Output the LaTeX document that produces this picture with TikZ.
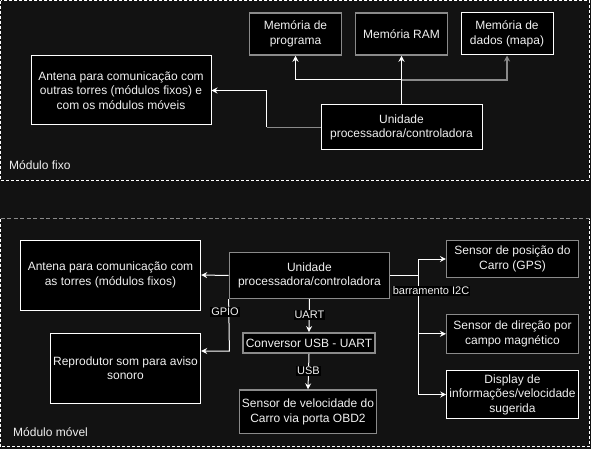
\documentclass[tikz,border=0pt]{standalone}
\usepackage{fontspec}
\setmainfont{Liberation Sans}
\usetikzlibrary{arrows.meta}
\definecolor{bgc}{HTML}{121212}
\definecolor{txc}{HTML}{F0F0F0}
\definecolor{grc}{HTML}{8A8A8A}
\tikzset{
  box/.style={draw=white, line width=1pt, fill=black, text=txc, align=center, inner sep=0pt,
    font=\fontsize{12}{14.5}\selectfont},
  gbox/.style={box, draw=grc, line width=1.5pt},
  wline/.style={draw=white, line width=1pt},
  gline/.style={draw=grc, line width=1.5pt},
  arr/.style={wline, -{Stealth[length=6pt,width=6pt,inset=2pt]}},
  garr/.style={gline, -{Stealth[length=6pt,width=6pt,inset=2pt]}},
  lbl/.style={fill=black, text=txc, inner sep=1pt, font=\fontsize{11}{13}\selectfont},
  modlbl/.style={text=txc, anchor=west, inner sep=0pt, font=\fontsize{12}{14}\selectfont},
  frame/.style={draw=white, line width=0.9pt, dash pattern=on 3pt off 2pt}
}
\begin{document}
\begin{tikzpicture}[x=1pt,y=-1pt]
\fill[bgc] (0,0) rectangle (591,449);
\useasboundingbox (0,0) rectangle (591,449);
% module frames
\draw[frame] (0.6,0.6) rectangle (589.6,180);
\draw[frame] (0.6,218.5) -- (0.6,446.8) -- (589.6,446.8) -- (589.6,218.5);
\draw[draw=grc, line width=1.5pt, dash pattern=on 4pt off 2.5pt] (0.6,218.5) -- (589.6,218.5);
\node[modlbl] (mf) at (9,165) {Módulo fixo};
\node[modlbl] (mm) at (13,432) {Módulo móvel};

% top module
\node[gbox, minimum width=92pt, minimum height=42pt] (mp) at (295.5,34) {Memória de\\programa};
\node[gbox, minimum width=92pt, minimum height=42pt] (ram) at (401.5,34) {Memória RAM};
\node[box, minimum width=92pt, minimum height=42pt] (md) at (507,34) {Memória de\\dados (mapa)};
\node[box, minimum width=180pt, minimum height=69pt] (ant1) at (121,90.5) {Antena para comunicação com\\outras torres (módulos fixos) e\\com os módulos móveis};
\node[box, minimum width=161pt, minimum height=45pt] (cpu1) at (401.5,127.5) {Unidade\\processadora/controladora};

\coordinate (br1) at (401.5,80);
\coordinate (c1) at (266.7,127.5);
\draw[arr] (cpu1.north) -- (ram.south);
\draw[arr] (br1) -| (mp.south);
\draw[garr] (br1) -| (md.south);
\draw[gline] (cpu1.west) -- (c1);
\draw[arr] (c1) |- (ant1.east);

% bottom module
\node[box, minimum width=180.4pt, minimum height=70pt] (ant2) at (110.5,275) {Antena para comunicação com\\as torres (módulos fixos)};
\node[box, minimum width=150.4pt, minimum height=70pt] (rep) at (125.5,368) {Reprodutor som para aviso\\sonoro};
\node[gbox, minimum width=160pt, minimum height=45.6pt] (cpu2) at (309.4,275.5) {Unidade\\processadora/controladora};
\node[gbox, minimum width=131.6pt, minimum height=36.6pt] (gps) at (512.5,259) {Sensor de posição do\\Carro (GPS)};
\node[gbox, minimum width=131.6pt, minimum height=39pt] (dir) at (512.5,333.8) {Sensor de direção por\\campo magnético};
\node[box, minimum width=131.6pt, minimum height=47.6pt] (disp) at (512.5,394.5) {Display de\\informações/velocidade\\sugerida};
\node[gbox, minimum width=131.7pt, minimum height=20.3pt] (conv) at (309,343) {Conversor USB - UART};
\node[gbox, minimum width=136.7pt, minimum height=43.3pt] (vel) at (308,411.7) {Sensor de velocidade do\\Carro via porta OBD2};

\draw[arr] (cpu2.west) -- (ant2.east);
\coordinate (g1) at (229.4,351);
\draw[arr] (cpu2.south west) -- (g1) -- (g1 -| rep.east);
\node[lbl] (gpio) at (225,312) {GPIO};

\draw[arr] (cpu2.south) -- (conv.north);
\node[lbl] (uart) at (309.4,315) {UART};
\draw[arr] (conv.south) -- (vel.north);
\node[lbl] (usb) at (308.5,371) {USB};

\coordinate (bus) at (418.3,275.5);
\draw[wline] (cpu2.east) -- (bus);
\draw[arr] (bus) |- (gps.west);
\draw[arr] (bus) |- (dir.west);
\draw[arr] (bus) |- (disp.west);
\node[lbl] (i2c) at (431,291) {barramento I2C};
\end{tikzpicture}
\end{document}
